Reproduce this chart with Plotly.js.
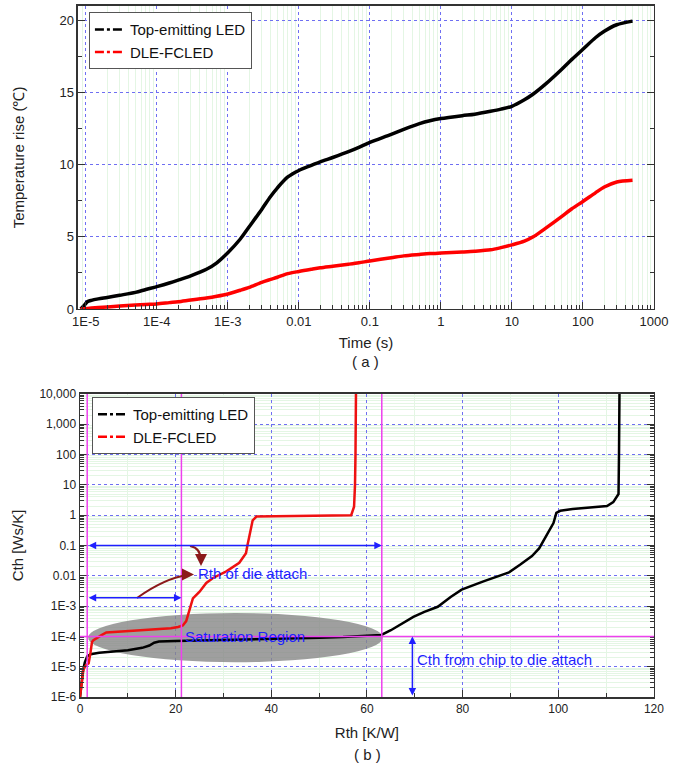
<!DOCTYPE html>
<html>
<head>
<meta charset="utf-8">
<script src="https://cdn.plot.ly/plotly-3.0.1.min.js"></script>
<style>html,body{margin:0;padding:0;background:#fff;}</style>
</head>
<body>
<div id="chart" style="width:684px;height:768px;"></div>
<script>
// ---- (a) transient temperature rise ----
const timeS = [8.5e-6, 9.5e-6, 1.05e-5, 1.2e-5, 1.5e-5, 2e-5, 3e-5, 5e-5, 7e-5, 1e-4, 1.5e-4, 2e-4, 3e-4, 5e-4, 7e-4, 1e-3, 1.5e-3, 2e-3, 3e-3, 4e-3, 5e-3, 7e-3, 1e-2, 1.5e-2, 2e-2, 3e-2, 5e-2, 7e-2, 0.1, 0.2, 0.3, 0.5, 0.7, 1, 2, 3, 5, 7, 10, 15, 20, 30, 50, 70, 100, 150, 200, 300, 500];
const riseTopLED = [0, 0.25, 0.5, 0.6, 0.7, 0.8, 0.95, 1.15, 1.35, 1.55, 1.8, 2.0, 2.3, 2.75, 3.2, 3.9, 4.85, 5.7, 6.9, 7.8, 8.4, 9.15, 9.6, 9.95, 10.2, 10.5, 10.9, 11.2, 11.55, 12.1, 12.45, 12.85, 13.05, 13.2, 13.4, 13.5, 13.7, 13.85, 14.05, 14.5, 14.9, 15.6, 16.6, 17.3, 18.0, 18.8, 19.25, 19.7, 19.95];
const riseDLE = [0, 0.01, 0.03, 0.06, 0.1, 0.14, 0.2, 0.27, 0.31, 0.35, 0.44, 0.5, 0.62, 0.76, 0.88, 1.04, 1.3, 1.5, 1.85, 2.05, 2.2, 2.45, 2.6, 2.75, 2.85, 2.96, 3.1, 3.2, 3.33, 3.55, 3.68, 3.78, 3.84, 3.88, 3.95, 4.0, 4.1, 4.25, 4.44, 4.7, 5.0, 5.6, 6.4, 6.95, 7.45, 8.05, 8.45, 8.8, 8.92];
const timeTickVals = [1e-5, 1e-4, 1e-3, 1e-2, 0.1, 1, 10, 100, 1000];
const timeTickText = ['1E-5', '1E-4', '1E-3', '0.01', '0.1', '1', '10', '100', '1000'];
const riseTickVals = [0, 5, 10, 15, 20];

// ---- (b) structure function ----
const rthTopLED = [0, 0.3, 0.6, 1.0, 1.5, 2.2, 4, 7, 10, 13, 14.5, 15.5, 16.5, 20, 30, 40, 50, 55, 60, 63, 65, 67, 69.7, 72, 74.8, 77.5, 79.8, 84.5, 89.7, 92, 94.5, 96, 97, 98.3, 99, 99.6, 100.4, 103, 107, 110.2, 111.5, 112.3, 112.6, 112.7, 112.8];
const cthTopLED = [1e-6, 3e-6, 7e-6, 1.4e-5, 2.2e-5, 2.6e-5, 2.9e-5, 3.2e-5, 3.5e-5, 4.2e-5, 5e-5, 6.2e-5, 6.8e-5, 7e-5, 7.5e-5, 8.1e-5, 9e-5, 9.5e-5, 1.02e-4, 1.12e-4, 1.6e-4, 2.5e-4, 4.4e-4, 6.5e-4, 9.5e-4, 2e-3, 3.5e-3, 6.7e-3, 1.3e-2, 2.3e-2, 4.5e-2, 8e-2, 0.15, 0.32, 0.55, 1.2, 1.4, 1.6, 1.8, 2.0, 2.7, 4, 5, 100, 10000];
const rthDLE = [0, 0.3, 0.7, 1.2, 1.8, 2.2, 2.5, 2.8, 3.5, 4.5, 5.5, 7, 10, 15, 19, 20.5, 21.5, 22.2, 22.9, 23.6, 25, 26.4, 27.8, 30.6, 33.3, 34.7, 35.0, 35.5, 36.1, 36.9, 40, 45, 50, 55, 56.7, 57.3, 57.5, 57.6, 57.7];
const cthDLE = [1e-6, 3e-6, 8e-6, 1.1e-5, 1.3e-5, 3e-5, 6.5e-5, 7.5e-5, 9e-5, 1.1e-4, 1.35e-4, 1.4e-4, 1.5e-4, 1.65e-4, 1.85e-4, 2.05e-4, 2.3e-4, 3.2e-4, 8e-4, 1.8e-3, 3e-3, 5.8e-3, 8.5e-3, 1.4e-2, 2.7e-2, 5.6e-2, 0.1, 0.25, 0.68, 0.9, 0.92, 0.93, 0.95, 0.98, 1.0, 1.9, 10, 100, 10000];
const rthTickVals = [0, 20, 40, 60, 80, 100, 120];
const rthMinorVals = [10, 30, 50, 70, 90, 110];
const cthTickVals = [1e-6, 1e-5, 1e-4, 1e-3, 1e-2, 0.1, 1, 10, 100, 1000, 10000];
const cthTickText = ['1E-6', '1E-5', '1E-4', '1E-3', '0.01', '0.1', '1', '10', '100', '1,000', '10,000'];
const seriesNames = ['Top-emitting LED', 'DLE-FCLED'];

// minor log positions (2..9 per decade)
function logMinors(lo, hi) {
  const out = [];
  for (let e = lo; e < hi; e++) for (let k = 2; k <= 9; k++) out.push(k * Math.pow(10, e));
  return out;
}
const timeMinor = logMinors(-6, 3);
const cthMinor = logMinors(-6, 4);

const FONT = 'Liberation Sans, Arial, sans-serif';
const BLUEGRID = '#6f6ff2';
const GREENGRID = '#e4f6e4';
const FRAME = '#333333';
const MAG = '#ee40ee';
const ABLUE = '#1f1fff';
const BROWN = '#8b1a1a';

const traces = [
  {x: timeS, y: riseTopLED, mode: 'lines', line: {color: '#000000', width: 3.5, shape: 'spline', smoothing: 0.8}, xaxis: 'x', yaxis: 'y', showlegend: false, name: seriesNames[0]},
  {x: timeS, y: riseDLE, mode: 'lines', line: {color: '#ff0000', width: 3.5, shape: 'spline', smoothing: 0.8}, xaxis: 'x', yaxis: 'y', showlegend: false, name: seriesNames[1]},
  {x: [null], y: [null], mode: 'lines', line: {color: '#000000', width: 2.5, dash: 'dashdot'}, xaxis: 'x', yaxis: 'y', name: seriesNames[0], legend: 'legend'},
  {x: [null], y: [null], mode: 'lines', line: {color: '#ff0000', width: 2.5, dash: 'dashdot'}, xaxis: 'x', yaxis: 'y', name: seriesNames[1], legend: 'legend'},
  {x: rthTopLED, y: cthTopLED, mode: 'lines', line: {color: '#000000', width: 2.5}, xaxis: 'x2', yaxis: 'y2', showlegend: false, name: seriesNames[0]},
  {x: rthDLE, y: cthDLE, mode: 'lines', line: {color: '#ee1111', width: 2.5}, xaxis: 'x2', yaxis: 'y2', showlegend: false, name: seriesNames[1]},
  {x: [null], y: [null], mode: 'lines', line: {color: '#000000', width: 2.5, dash: 'dashdot'}, xaxis: 'x2', yaxis: 'y2', name: seriesNames[0], legend: 'legend2'},
  {x: [null], y: [null], mode: 'lines', line: {color: '#ff0000', width: 2.5, dash: 'dashdot'}, xaxis: 'x2', yaxis: 'y2', name: seriesNames[1], legend: 'legend2'}
];

const axBase = {
  showline: true, linecolor: FRAME, linewidth: 1.5,
  ticks: 'inside', ticklen: 7, tickcolor: FRAME, tickwidth: 1,
  showgrid: true, gridcolor: BLUEGRID, griddash: 'dot', gridwidth: 1,
  zeroline: false, automargin: false,
  tickfont: {family: FONT, size: 13, color: '#222'}
};
const minorBase = {tickmode: 'array', ticks: 'inside', ticklen: 4, tickcolor: FRAME, gridcolor: GREENGRID, gridwidth: 1, griddash: 'solid'};

const layout = {
  width: 684, height: 768,
  margin: {l: 0, r: 0, t: 0, b: 0},
  paper_bgcolor: '#ffffff', plot_bgcolor: '#ffffff',
  font: {family: FONT, color: '#222'},
  xaxis: Object.assign({}, axBase, {
    domain: [0.114, 0.956], anchor: 'y', type: 'log', range: [-5.11, 3],
    tickmode: 'array', tickvals: timeTickVals, ticktext: timeTickText, mirror: true,
    minor: Object.assign({}, minorBase, {tickvals: timeMinor, showgrid: true}),
    title: {text: 'Time (s)', font: {family: FONT, size: 15, color: '#222'}, standoff: 9}
  }),
  yaxis: Object.assign({}, axBase, {
    domain: [0.5977, 0.9922], anchor: 'x', range: [0, 21],
    tickmode: 'array', tickvals: riseTickVals, mirror: 'ticks',
    minor: Object.assign({}, minorBase, {tickvals: [2.5, 7.5, 12.5, 17.5], showgrid: false}),
    title: {text: 'Temperature rise (℃)', font: {family: FONT, size: 15, color: '#222'}, standoff: 31}
  }),
  xaxis2: Object.assign({}, axBase, {
    domain: [0.117, 0.956], anchor: 'y2', range: [0, 120],
    tickmode: 'array', tickvals: rthTickVals, mirror: true,
    tickfont: {family: FONT, size: 12, color: '#222'},
    minor: Object.assign({}, minorBase, {tickvals: rthMinorVals, showgrid: true}),
    title: {text: 'Rth [K/W]', font: {family: FONT, size: 15, color: '#222'}, standoff: 12}
  }),
  yaxis2: Object.assign({}, axBase, {
    domain: [0.0924, 0.487], anchor: 'x2', type: 'log', range: [-6, 4],
    tickmode: 'array', tickvals: cthTickVals, ticktext: cthTickText, mirror: 'ticks',
    tickfont: {family: FONT, size: 12, color: '#222'},
    minor: Object.assign({}, minorBase, {tickvals: cthMinor, showgrid: true}),
    title: {text: 'Cth [Ws/K]', font: {family: FONT, size: 15, color: '#222'}, standoff: 12}
  }),
  legend: {x: 0.130, y: 0.984, xanchor: 'left', yanchor: 'top', bgcolor: '#ffffff', bordercolor: '#555', borderwidth: 1, font: {family: FONT, size: 15, color: '#111'}, tracegroupgap: 0},
  legend2: {x: 0.1345, y: 0.483, xanchor: 'left', yanchor: 'top', bgcolor: '#ffffff', bordercolor: '#555', borderwidth: 1, font: {family: FONT, size: 15, color: '#111'}, tracegroupgap: 0},
  shapes: [
    {type: 'circle', xref: 'x2', yref: 'y2', x0: 1.7, x1: 63.3, y0: 1.41e-5, y1: 5.9e-4, fillcolor: 'rgba(135,135,135,0.8)', line: {width: 0}, layer: 'between'},
    {type: 'line', xref: 'x2', yref: 'paper', x0: 1.5, x1: 1.5, y0: 0.0924, y1: 0.487, line: {color: MAG, width: 1.5}},
    {type: 'line', xref: 'x2', yref: 'paper', x0: 21.2, x1: 21.2, y0: 0.0924, y1: 0.487, line: {color: MAG, width: 1.5}},
    {type: 'line', xref: 'x2', yref: 'paper', x0: 63.1, x1: 63.1, y0: 0.0924, y1: 0.487, line: {color: MAG, width: 1.5}},
    {type: 'line', xref: 'paper', yref: 'y2', x0: 0.117, x1: 0.956, y0: 1e-4, y1: 1e-4, line: {color: MAG, width: 1.5}},
    {type: 'path', xref: 'paper', yref: 'paper', path: 'M 0.2778 0.2891 Q 0.2939 0.2865 0.2939 0.2695', line: {color: BROWN, width: 2}},
    {type: 'path', xref: 'paper', yref: 'paper', path: 'M 0.2003 0.2214 Q 0.2412 0.2474 0.2749 0.2513', line: {color: BROWN, width: 2}}
  ],
  annotations: [
    {xref: 'paper', yref: 'paper', x: 0.535, y: 0.529, xanchor: 'center', yanchor: 'middle', text: '( a )', showarrow: false, font: {family: FONT, size: 15, color: '#222'}},
    {xref: 'paper', yref: 'paper', x: 0.537, y: 0.017, xanchor: 'center', yanchor: 'middle', text: '( b )', showarrow: false, font: {family: FONT, size: 15, color: '#222'}},
    {xref: 'x2', yref: 'y2', axref: 'x2', ayref: 'y2', x: 63.1, y: -1, ax: 1.5, ay: -1, text: '', showarrow: true, arrowside: 'end+start', arrowhead: 2, arrowsize: 1, arrowwidth: 1.5, arrowcolor: ABLUE},
    {xref: 'x2', yref: 'y2', axref: 'x2', ayref: 'y2', x: 21.2, y: -2.72, ax: 1.5, ay: -2.72, text: '', showarrow: true, arrowside: 'end+start', arrowhead: 2, arrowsize: 1, arrowwidth: 1.5, arrowcolor: ABLUE},
    {xref: 'x2', yref: 'y2', axref: 'x2', ayref: 'y2', x: 69.5, y: -4, ax: 69.5, ay: -6, text: '', showarrow: true, arrowside: 'end+start', arrowhead: 2, arrowsize: 1, arrowwidth: 1.5, arrowcolor: ABLUE},
    {xref: 'paper', yref: 'paper', x: 0.2939, y: 0.2630, ax: 0, ay: -6, text: '', showarrow: true, arrowhead: 2, arrowsize: 1.2, arrowwidth: 2, arrowcolor: BROWN},
    {xref: 'paper', yref: 'paper', x: 0.2836, y: 0.2520, ax: -7, ay: 0, text: '', showarrow: true, arrowhead: 2, arrowsize: 1.2, arrowwidth: 2, arrowcolor: BROWN},
    {xref: 'x2', yref: 'y2', x: 24.2, y: -1.94, text: 'Rth of die attach', showarrow: false, xanchor: 'left', yanchor: 'middle', font: {family: FONT, size: 15, color: ABLUE}},
    {xref: 'x2', yref: 'y2', x: 21.5, y: -4.0, text: 'Saturation Region', showarrow: false, xanchor: 'left', yanchor: 'middle', font: {family: FONT, size: 15, color: ABLUE}},
    {xref: 'x2', yref: 'y2', x: 70, y: -4.75, text: 'Cth from chip to die attach', showarrow: false, xanchor: 'left', yanchor: 'middle', font: {family: FONT, size: 15, color: ABLUE}}
  ]
};

Plotly.newPlot('chart', traces, layout, {staticPlot: true, displayModeBar: false});
</script>
</body>
</html>
